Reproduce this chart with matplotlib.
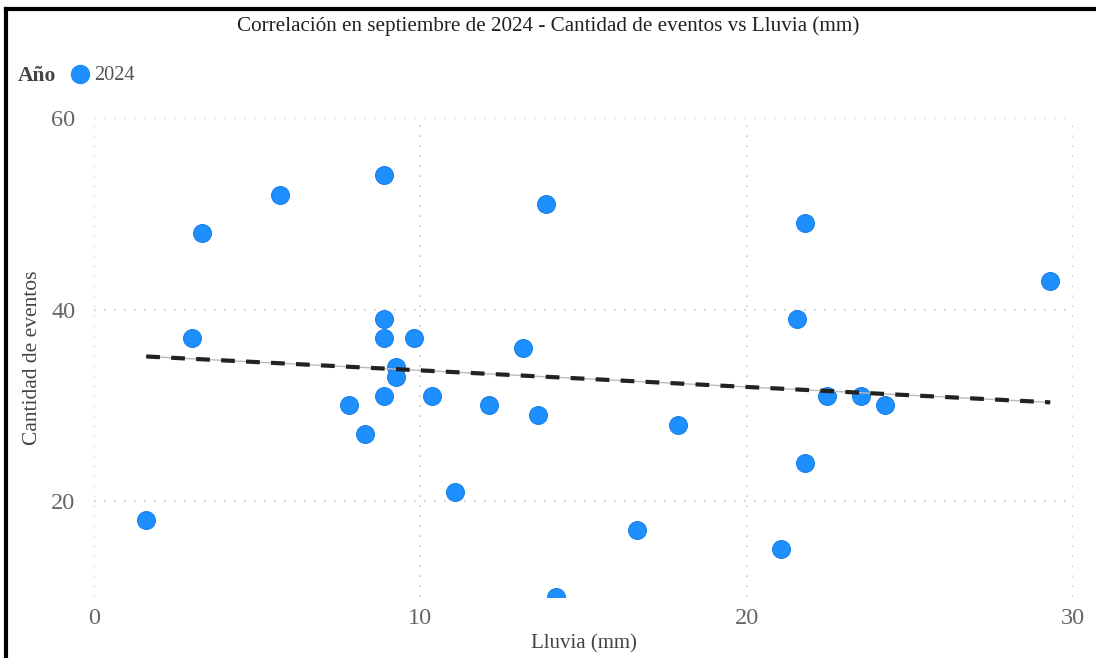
import numpy as np
import matplotlib
matplotlib.use("Agg")
import matplotlib.pyplot as plt
from matplotlib.lines import Line2D

plt.rcParams['font.family'] = ['Liberation Serif', 'DejaVu Serif']

# rain (mm) and number of events, September 2024
lluvia = [1.6, 3.0, 3.3, 5.7, 8.9, 7.8, 8.3, 8.9, 8.9, 8.9, 9.25, 9.25, 9.8, 10.35,
          11.05, 12.1, 13.15, 13.6, 13.85, 14.15, 16.65, 17.9, 21.05, 21.55, 21.8,
          21.8, 22.45, 23.5, 24.25, 29.3]
eventos = [18, 37, 48, 52, 54, 30, 27, 39, 37, 31, 34, 33, 37, 31,
           21, 30, 36, 29, 51, 10, 17, 28, 15, 39, 49,
           24, 31, 31, 30, 43]
x_ticks = [0, 10, 20, 30]
y_ticks = [20, 40, 60]

fig = plt.figure(figsize=(10.96, 6.58), dpi=100)
ax = fig.add_axes([94 / 1096, 1 - 597 / 658, (1073 - 94) / 1096, (597 - 118) / 658])

ax.scatter(lluvia, eventos, s=165, color='#1e8fff', edgecolor='#1a7fe6',
           linewidth=0.8, zorder=3, clip_on=True)

# trend line (least squares)
m, b = np.polyfit(lluvia, eventos, 1)
xs = np.array([min(lluvia), max(lluvia)])
ax.plot(xs, m * xs + b, color='#bbbbbb', linewidth=1, zorder=4)
ax.plot(xs, m * xs + b, color='#222222', linewidth=3, linestyle=(0, (3.3, 2.7)), zorder=5)

ax.set_xlim(0, 30)
ax.set_ylim(10, 60)
ax.set_xticks(x_ticks)
ax.set_yticks(y_ticks)
ax.tick_params(length=0, labelsize=17.5, labelcolor='#666666')
ax.tick_params(axis='y', pad=13.5)
ax.tick_params(axis='x', pad=8)
for s in ax.spines.values():
    s.set_visible(False)
ax.grid(True, color='#c8c8c8', linestyle=(0, (1, 5)), linewidth=1.2)
ax.set_axisbelow(True)

ax.set_xlabel('Lluvia (mm)', fontsize=15, color='#444444', labelpad=4)
ax.set_ylabel('Cantidad de eventos', fontsize=15.5, color='#444444', labelpad=6.5)

fig.text(0.5, 1 - 26 / 658, 'Correlación en septiembre de 2024 - Cantidad de eventos vs Lluvia (mm)',
         ha='center', va='center', fontsize=15.2, color='#222222')

# legend
fig.text(18 / 1096, 1 - 76 / 658, 'Año', fontsize=15.5, fontweight='bold', color='#444444',
         ha='left', va='center')
fig.add_artist(Line2D([80 / 1096], [1 - 74 / 658], marker='o', markersize=13,
                      color='#1e8fff', transform=fig.transFigure))
fig.text(94 / 1096, 1 - 75 / 658, '2024', fontsize=14.7, color='#555555', ha='left', va='center')

# frame around the visual
fig.add_artist(Line2D([6 / 1096, 6 / 1096], [0, 1 - 9 / 658], color='black', linewidth=3,
                      transform=fig.transFigure))
fig.add_artist(Line2D([6 / 1096, 1], [1 - 9 / 658, 1 - 9 / 658], color='black', linewidth=3,
                      transform=fig.transFigure))

fig.savefig('out.png', dpi=100)
